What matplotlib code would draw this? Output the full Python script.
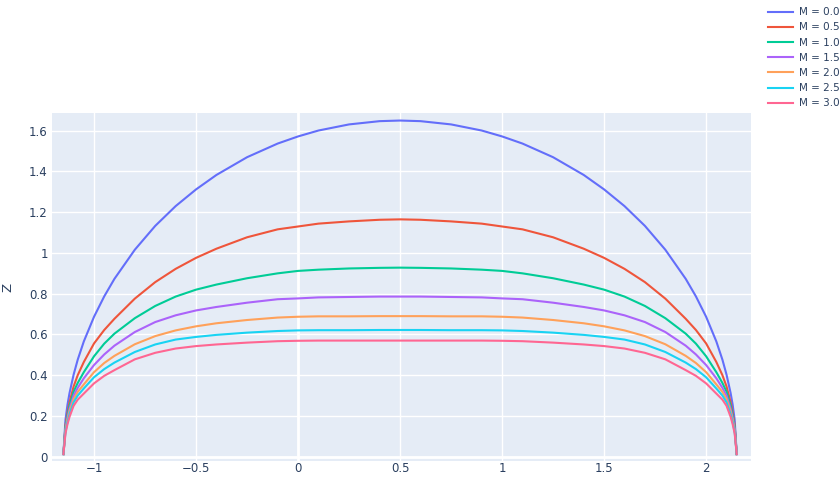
import matplotlib
matplotlib.use("Agg")
import matplotlib.pyplot as plt

# x positions
x = [-1.15, -1.14, -1.13, -1.12, -1.10, -1.08, -1.05, -1.00, -0.95, -0.90, -0.80, -0.70,
     -0.60, -0.50, -0.40, -0.25, -0.10, 0.00, 0.10, 0.25, 0.40, 0.50,
     0.60, 0.75, 0.90, 1.00, 1.10, 1.25, 1.40, 1.50, 1.60, 1.70, 1.80,
     1.90, 1.95, 2.00, 2.05, 2.08, 2.10, 2.12, 2.13, 2.14, 2.15]

z_m00 = [0.013, 0.181, 0.256, 0.313, 0.403, 0.476, 0.566, 0.687, 0.787, 0.873, 1.016, 1.133,
         1.230, 1.312, 1.383, 1.470, 1.537, 1.572, 1.601, 1.631, 1.647, 1.650,
         1.647, 1.631, 1.601, 1.572, 1.537, 1.470, 1.383, 1.312, 1.230, 1.133, 1.016,
         0.873, 0.787, 0.687, 0.566, 0.476, 0.403, 0.313, 0.256, 0.181, 0.013]
z_m05 = [0.013, 0.155, 0.218, 0.268, 0.345, 0.400, 0.465, 0.556, 0.622, 0.677, 0.776, 0.857,
         0.922, 0.976, 1.021, 1.077, 1.116, 1.130, 1.144, 1.155, 1.163, 1.165,
         1.163, 1.155, 1.144, 1.130, 1.116, 1.077, 1.021, 0.976, 0.922, 0.857, 0.776,
         0.677, 0.622, 0.556, 0.465, 0.400, 0.345, 0.268, 0.218, 0.155, 0.013]
z_m10 = [0.013, 0.145, 0.204, 0.250, 0.319, 0.362, 0.415, 0.493, 0.555, 0.604, 0.680, 0.740,
         0.786, 0.820, 0.845, 0.876, 0.900, 0.912, 0.918, 0.924, 0.927, 0.928,
         0.927, 0.924, 0.918, 0.912, 0.900, 0.876, 0.845, 0.820, 0.786, 0.740, 0.680,
         0.604, 0.555, 0.493, 0.415, 0.362, 0.319, 0.250, 0.204, 0.145, 0.013]
z_m15 = [0.013, 0.136, 0.192, 0.235, 0.300, 0.338, 0.385, 0.450, 0.502, 0.545, 0.612, 0.661,
         0.694, 0.718, 0.735, 0.756, 0.773, 0.777, 0.782, 0.784, 0.786, 0.786,
         0.786, 0.784, 0.782, 0.777, 0.773, 0.756, 0.735, 0.718, 0.694, 0.661, 0.612,
         0.545, 0.502, 0.450, 0.385, 0.338, 0.300, 0.235, 0.192, 0.136, 0.013]
z_m20 = [0.013, 0.128, 0.181, 0.222, 0.283, 0.318, 0.355, 0.415, 0.460, 0.495, 0.552, 0.592,
         0.620, 0.640, 0.655, 0.671, 0.683, 0.687, 0.689, 0.689, 0.690, 0.690,
         0.690, 0.689, 0.689, 0.687, 0.683, 0.671, 0.655, 0.640, 0.620, 0.592, 0.552,
         0.495, 0.460, 0.415, 0.355, 0.318, 0.283, 0.222, 0.181, 0.128, 0.013]
z_m25 = [0.013, 0.121, 0.171, 0.209, 0.267, 0.300, 0.335, 0.390, 0.430, 0.462, 0.514, 0.551,
         0.575, 0.588, 0.598, 0.609, 0.617, 0.620, 0.621, 0.621, 0.622, 0.622,
         0.622, 0.621, 0.621, 0.620, 0.617, 0.609, 0.598, 0.588, 0.575, 0.551, 0.514,
         0.462, 0.430, 0.390, 0.335, 0.300, 0.267, 0.209, 0.171, 0.121, 0.013]
z_m30 = [0.013, 0.114, 0.160, 0.196, 0.250, 0.280, 0.310, 0.360, 0.397, 0.425, 0.478, 0.510,
         0.531, 0.543, 0.551, 0.560, 0.567, 0.569, 0.570, 0.570, 0.570, 0.570,
         0.570, 0.570, 0.570, 0.569, 0.567, 0.560, 0.551, 0.543, 0.531, 0.510, 0.478,
         0.425, 0.397, 0.360, 0.310, 0.280, 0.250, 0.196, 0.160, 0.114, 0.013]

series = [z_m00, z_m05, z_m10, z_m15, z_m20, z_m25, z_m30]
labels = ["M = 0.0", "M = 0.5", "M = 1.0", "M = 1.5", "M = 2.0", "M = 2.5", "M = 3.0"]
colors = ["#636EFA", "#EF553B", "#00CC96", "#AB63FA", "#FFA15A", "#19D3F3", "#FF6692"]

xticks = [-1, -0.5, 0, 0.5, 1, 1.5, 2]
yticks = [0, 0.2, 0.4, 0.6, 0.8, 1, 1.2, 1.4, 1.6]

fig = plt.figure(figsize=(8.4, 4.79), dpi=100)
ax = fig.add_axes([52 / 840, 1 - 461 / 479, (751 - 52) / 840, (461 - 113) / 479])
ax.set_facecolor("#E5ECF6")

for z, lab, c in zip(series, labels, colors):
    ax.plot(x, z, color=c, lw=1.5, label=lab, zorder=3, solid_joinstyle="round")

ax.set_xlim(-1.206, 2.22)
ax.set_ylim(-0.021, 1.687)
ax.set_xticks(xticks)
ax.set_xticklabels([("\u2212" if t < 0 else "") + f"{abs(t):g}" for t in xticks])
ax.set_yticks(yticks)
ax.set_yticklabels([f"{t:g}" for t in yticks])
ax.grid(True, color="white", lw=1.0, zorder=0)
ax.set_axisbelow(True)
ax.axvline(0, color="white", lw=2.0, zorder=1)
ax.axhline(0, color="white", lw=2.0, zorder=1)
for s in ax.spines.values():
    s.set_visible(False)
ax.tick_params(length=0, labelsize=8.5, colors="#2a3f5f")
ax.tick_params(axis="x", pad=1)
ax.tick_params(axis="y", pad=3)
ax.set_ylabel("Z", fontsize=9.5, color="#2a3f5f")
ax.yaxis.set_label_coords((14 - 52) / 699, 0.5)

fig.legend(loc="upper left", bbox_to_anchor=(764 / 840, 1 - 3 / 479), frameon=False,
           fontsize=7.5, handlelength=2.4, handletextpad=0.55, labelspacing=0.5,
           labelcolor="#2a3f5f", borderaxespad=0)

fig.savefig("out.png", dpi=100)
